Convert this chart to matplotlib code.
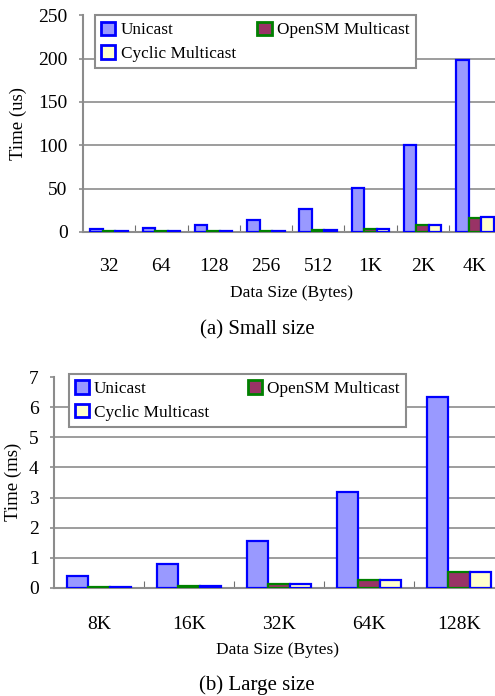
import numpy as np
import matplotlib
matplotlib.use("Agg")
import matplotlib.pyplot as plt
from matplotlib.patches import Patch

plt.rcParams['font.family'] = ['Liberation Serif', 'DejaVu Serif']

series = ["Unicast", "OpenSM Multicast", "Cyclic Multicast"]

small_sizes = ["32", "64", "128", "256", "512", "1K", "2K", "4K"]
small_unicast = [3.5, 4.5, 8, 14, 26, 51, 100, 198]
small_opensm = [1, 1, 1, 1.5, 2.5, 4, 8, 16]
small_cyclic = [1, 1, 1, 1.5, 2.5, 4, 8, 17]

large_sizes = ["8K", "16K", "32K", "64K", "128K"]
large_unicast = [0.4, 0.78, 1.56, 3.18, 6.35]
large_opensm = [0.02, 0.08, 0.12, 0.25, 0.52]
large_cyclic = [0.02, 0.08, 0.12, 0.25, 0.52]

fills = ["#9999FF", "#993366", "#FFFFCC"]
edges = ["#0000FF", "#008000", "#0000FF"]
GRID = "#8c8c8c"
FS = 14


def draw_panel(ax, labels, values, ymax, ystep, tickpad, leg_anchor, colgap):
    x = np.arange(len(labels))
    w = 0.24
    for i, vals in enumerate(values):
        ax.bar(x + (i - 1) * w, vals, w, color=fills[i], edgecolor=edges[i],
               linewidth=1.6, zorder=3)

    ax.set_xlim(-0.5, len(labels) - 0.5)
    ax.set_ylim(0, ymax)
    ax.set_yticks(np.arange(0, ymax + ystep / 2, ystep))
    ax.yaxis.grid(True, color=GRID, linewidth=1.2, zorder=0)
    ax.set_axisbelow(True)
    ax.yaxis.get_gridlines()[-1].set_visible(False)

    # category labels sit in the middle, small marks at the boundaries
    ax.set_xticks(x)
    ax.set_xticklabels(labels)
    ax.set_xticks(np.arange(0.5, len(labels) - 0.5), minor=True)
    ax.tick_params(axis='x', which='major', length=0, pad=tickpad, labelsize=FS)
    ax.tick_params(axis='x', which='minor', direction='in', length=5,
                   width=0.8, color='#707070')
    ax.tick_params(axis='y', length=3, width=1.2, color=GRID, pad=8,
                   labelsize=FS)

    for side in ['top', 'right']:
        ax.spines[side].set_visible(False)
    for side in ['left', 'bottom']:
        ax.spines[side].set_color(GRID)
        ax.spines[side].set_linewidth(1.5)

    # column-wise fill: Unicast, Cyclic in first column, OpenSM in second
    order = [0, 2, 1]
    handles = [Patch(facecolor=fills[i], edgecolor=edges[i], linewidth=2)
               for i in order]
    names = [series[i] for i in order]
    leg = ax.legend(handles, names, ncol=2, loc='upper left',
                    bbox_to_anchor=leg_anchor, borderaxespad=0,
                    fontsize=12.4, frameon=True, framealpha=1,
                    fancybox=False, edgecolor=GRID, handlelength=0.82,
                    handleheight=0.82, handletextpad=0.3, columnspacing=colgap,
                    labelspacing=0.4, borderpad=0.37)
    leg.get_frame().set_linewidth(1.5)
    leg.set_zorder(5)


def main():
    fig = plt.figure(figsize=(4.95, 6.96), dpi=100)

    ax1 = fig.add_axes([83 / 495, 1 - 232 / 696, 418 / 495, 216.7 / 696])
    draw_panel(ax1, small_sizes, [small_unicast, small_opensm, small_cyclic],
               250, 50, 19, (12 / 418, 1.0), 1.25)
    fig.text(18 / 495, 1 - 123 / 696, "Time (us)", rotation=90, ha='center',
             va='center', fontsize=13.5)
    fig.text(292 / 495, 1 - 293 / 696, "Data Size (Bytes)", ha='center',
             va='center', fontsize=12.5)
    fig.text(257 / 495, 1 - 330 / 696, "(a) Small size", ha='center',
             va='center', fontsize=15)

    ax2 = fig.add_axes([54 / 495, 1 - 588 / 696, 450 / 495, 211 / 696])
    draw_panel(ax2, large_sizes, [large_unicast, large_opensm, large_cyclic],
               7, 1, 20, (14.5 / 450, 1.014), 2.25)
    fig.text(13 / 495, 1 - 482 / 696, "Time (ms)", rotation=90, ha='center',
             va='center', fontsize=13.5)
    fig.text(278 / 495, 1 - 650 / 696, "Data Size (Bytes)", ha='center',
             va='center', fontsize=12.5)
    fig.text(257 / 495, 1 - 685 / 696, "(b) Large size", ha='center',
             va='center', fontsize=15)

    fig.savefig("out.png", dpi=100)


if __name__ == '__main__':
    main()
